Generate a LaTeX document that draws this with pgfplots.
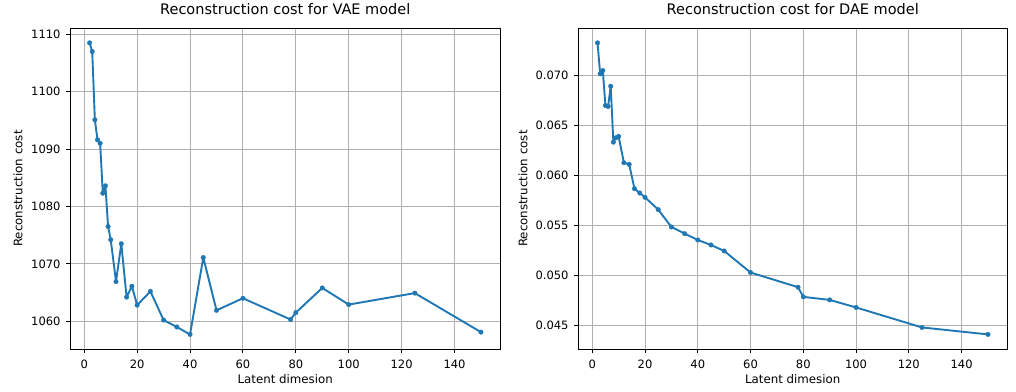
\documentclass[border=0pt]{standalone}
\usepackage{fontspec}
\setmainfont{DejaVu Sans}
\usepackage{pgfplots}
\pgfplotsset{compat=1.18}
\definecolor{mplblue}{HTML}{1F77B4}
\definecolor{mplgrid}{HTML}{B0B0B0}

\pgfplotsset{
  mplstyle/.style={
    scale only axis,
    height=320.7pt,
    axis line style={black, line width=1pt},
    grid=major,
    major grid style={mplgrid, line width=0.9pt},
    tick align=outside,
    tick pos=left,
    major tick length=3.6pt,
    every tick/.style={black, line width=1pt},
    /pgf/number format/assume math mode=true,
    /pgf/number format/1000 sep={},
    ticklabel style={font=\fontsize{11.5}{13}\selectfont, inner sep=0pt},
    xticklabel style={anchor=north, yshift=-6.7pt},
    yticklabel style={anchor=east, xshift=-5.7pt},
    label style={font=\fontsize{11.8}{13}\selectfont},
    title style={font=\fontsize{14.5}{17}\selectfont, at={(0.5,1)}, anchor=base, yshift=7.4pt, inner sep=0pt},
    xlabel style={at={(axis description cs:0.5,0)}, anchor=base, yshift=-34pt, inner sep=0pt},
    xmin=-5.4, xmax=157.4,
    xtick={0,20,...,140},
    scaled y ticks=false,
  },
  mplline/.style={mplblue, line width=1.9pt, line join=round, line cap=round,
    mark=*, mark size=2.3pt,
    mark options={solid, fill=mplblue, draw=mplblue, line width=0.3pt}},
}

\pgfplotstableread{
dim cost
2 1108.5
3 1107.0
4 1095.1
5 1091.6
6 1091.0
7 1082.3
8 1083.6
9 1076.5
10 1074.2
12 1066.9
14 1073.5
16 1064.2
18 1066.1
20 1062.8
25 1065.2
30 1060.2
35 1059.0
40 1057.7
45 1071.1
50 1061.9
60 1064.0
78 1060.3
80 1061.5
90 1065.8
100 1062.9
125 1064.9
150 1058.1
}\vaedata

\pgfplotstableread{
dim cost
2 0.07327
3 0.07017
4 0.07050
5 0.06700
6 0.06690
7 0.06893
8 0.06333
9 0.06377
10 0.06390
12 0.06127
14 0.06110
16 0.05867
18 0.05823
20 0.05780
25 0.05657
30 0.05483
35 0.05417
40 0.05353
45 0.05303
50 0.05243
60 0.05027
78 0.04880
80 0.04783
90 0.04753
100 0.04677
125 0.04477
150 0.04407
}\daedata

\begin{document}
\begin{tikzpicture}
\useasboundingbox (0,0) rectangle (1016pt,391pt);

\begin{axis}[mplstyle,
  at={(70pt,42pt)}, anchor=south west,
  width=430.5pt,
  title={Reconstruction cost for VAE model},
  xlabel={Latent dimesion},
  ylabel={Reconstruction cost},
  ylabel style={at={(axis description cs:-0.1208,0.5)}, anchor=center},
  ymin=1055.16, ymax=1111.04,
  ytick={1060,1070,...,1110},
]
\addplot[mplline] table[x=dim, y=cost] {\vaedata};
\end{axis}

\begin{axis}[mplstyle,
  at={(578pt,42pt)}, anchor=south west,
  width=429.5pt,
  title={Reconstruction cost for DAE model},
  xlabel={Latent dimesion},
  ylabel={Reconstruction cost},
  ylabel style={at={(axis description cs:-0.128,0.5)}, anchor=center},
  ymin=0.04261, ymax=0.07473,
  ytick={0.045,0.050,0.055,0.060,0.065,0.070},
  yticklabels={0.045,0.050,0.055,0.060,0.065,0.070},
]
\addplot[mplline] table[x=dim, y=cost] {\daedata};
\end{axis}
\end{tikzpicture}
\end{document}
